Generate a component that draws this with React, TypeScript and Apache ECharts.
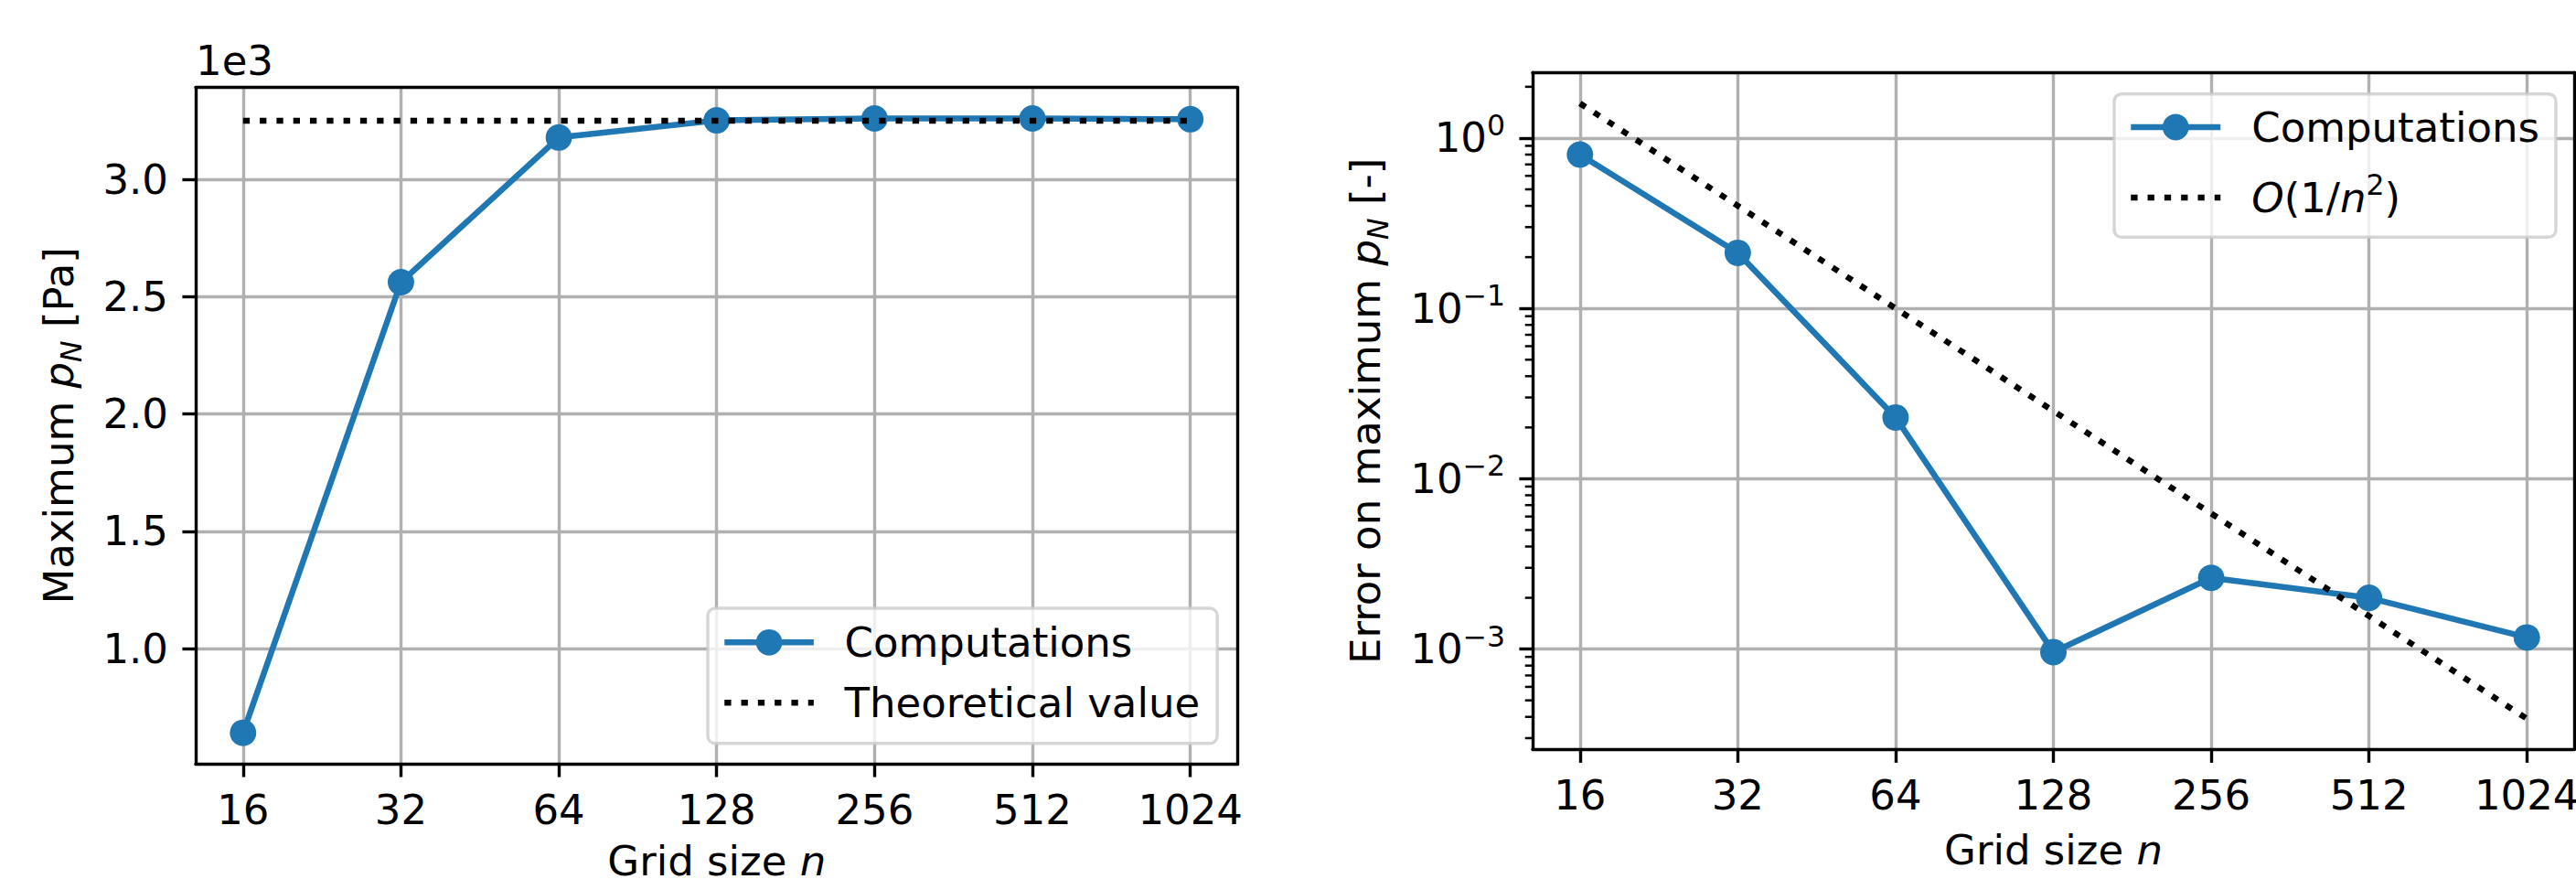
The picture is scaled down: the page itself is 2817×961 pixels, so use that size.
import React, { useEffect, useRef } from 'react';
import * as echarts from 'echarts';

// ---------------- data ----------------
const GRID_SIZES = [16, 32, 64, 128, 256, 512, 1024];
const MAX_PRESSURE = [641, 2562, 3179, 3252, 3260, 3260, 3257];
const THEORETICAL = [3250, 3250, 3250, 3250, 3250, 3250, 3250];
const ERRORS = [0.8, 0.212, 0.0229, 0.00096, 0.00262, 0.002, 0.00117];
const REFERENCE = [1.6, 0.4, 0.1, 0.025, 0.00625, 0.0015625, 0.000390625];
const LEFT_Y_TICKS = [1000, 1500, 2000, 2500, 3000];
const RIGHT_Y_TICKS = [0.001, 0.01, 0.1, 1];
const RIGHT_Y_MINOR = [
  3e-4, 4e-4, 5e-4, 6e-4, 7e-4, 8e-4, 9e-4,
  2e-3, 3e-3, 4e-3, 5e-3, 6e-3, 7e-3, 8e-3, 9e-3,
  2e-2, 3e-2, 4e-2, 5e-2, 6e-2, 7e-2, 8e-2, 9e-2,
  2e-1, 3e-1, 4e-1, 5e-1, 6e-1, 7e-1, 8e-1, 9e-1,
  2,
];
const REF_NAME = 'O(1/n²)';

// ---------------- style ----------------
const FONT = 'DejaVu Sans';
const FS = 45;
const SUB = 31.5;
const BLUE = '#1f77b4';
const GRIDC = '#b0b0b0';
const LW_AX = 3.4;
const LW = 6.5;
const DOT = [7.3, 11];

const X_MIN = 3.7; // log2 extent
const X_MAX = 10.3;
const LY_MIN = 509;
const LY_MAX = 3392;
const RY_MIN = -3.5889; // log10 extent
const RY_MAX = 0.3847;

const lg2 = (v: number) => Math.log2(v);
const lg10 = (v: number) => Math.log10(v);

const textBase = { fontFamily: FONT, fontSize: FS, color: '#000' };

const nameRich = {
  t: { ...textBase, lineHeight: 60 },
  i: { ...textBase, fontStyle: 'italic', lineHeight: 60 },
  s: { ...textBase, fontSize: SUB, fontStyle: 'italic', lineHeight: 38, verticalAlign: 'bottom' },
};

function bottomXAxis(gridIndex: number, nameGap: number) {
  return {
    type: 'value',
    gridIndex,
    min: X_MIN,
    max: X_MAX,
    position: 'bottom',
    axisLine: { show: true, onZero: false, lineStyle: { color: '#000', width: LW_AX } },
    axisTick: {
      show: true,
      length: 14.6,
      lineStyle: { color: '#000', width: LW_AX },
      customValues: GRID_SIZES.map(lg2),
    },
    axisLabel: {
      ...textBase,
      lineHeight: 46,
      margin: 27.5,
      customValues: GRID_SIZES.map(lg2),
      formatter: (v: number) => String(Math.round(Math.pow(2, v))),
    },
    splitLine: { show: true, lineStyle: { color: GRIDC, width: LW_AX } },
    name: '{t|Grid size }{i|n}',
    nameLocation: 'middle',
    nameGap,
    nameMoveOverlap: false,
    nameTextStyle: {
      ...textBase,
      lineHeight: 30,
      rich: {
        t: { ...textBase, lineHeight: 30 },
        i: { ...textBase, fontStyle: 'italic', lineHeight: 30 },
      },
    },
  };
}

function borderAxis(gridIndex: number, position: string, min: number, max: number) {
  return {
    type: 'value',
    gridIndex,
    min,
    max,
    position,
    axisLine: { show: true, onZero: false, lineStyle: { color: '#000', width: LW_AX } },
    axisTick: { show: false },
    axisLabel: { show: false },
    splitLine: { show: false },
  };
}

const legendCommon = {
  orient: 'vertical',
  itemHeight: 36,
  backgroundColor: 'rgba(255,255,255,0.8)',
  borderColor: 'rgba(204,204,204,0.8)',
  borderWidth: 3.4,
  borderRadius: 8,
  lineStyle: { width: LW },
  selectedMode: false,
};

const App: React.FC = () => {
  const ref = useRef<HTMLDivElement>(null);

  useEffect(() => {
    if (!ref.current) return;
    const chart = echarts.init(ref.current, undefined, { renderer: 'svg' });

    const option: any = {
      animation: false,
      backgroundColor: '#ffffff',
      grid: [
        { left: 214, right: 1463.5, top: 95.7, bottom: 126, outerBoundsMode: 'none', containLabel: false },
        { left: 1676, right: 2, top: 79.3, bottom: 141.7, outerBoundsMode: 'none', containLabel: false },
      ],
      xAxis: [
        bottomXAxis(0, 91),
        borderAxis(0, 'top', X_MIN, X_MAX),
        bottomXAxis(1, 95.5),
        borderAxis(1, 'top', X_MIN, X_MAX),
      ],
      yAxis: [
        {
          type: 'value',
          gridIndex: 0,
          min: LY_MIN,
          max: LY_MAX,
          position: 'left',
          axisLine: { show: true, onZero: false, lineStyle: { color: '#000', width: LW_AX } },
          axisTick: { show: true, length: 14.6, lineStyle: { color: '#000', width: LW_AX }, customValues: LEFT_Y_TICKS },
          axisLabel: {
            ...textBase,
            margin: 30,
            customValues: LEFT_Y_TICKS,
            formatter: (v: number) => (v / 1000).toFixed(1),
          },
          splitLine: { show: true, lineStyle: { color: GRIDC, width: LW_AX } },
          name: '{t|Maximum }{i|p}{s|N}{t| [Pa]}',
          nameLocation: 'middle',
          nameGap: 120,
          nameMoveOverlap: false,
          nameTextStyle: { ...textBase, rich: nameRich },
        },
        borderAxis(0, 'right', LY_MIN, LY_MAX),
        {
          type: 'value',
          gridIndex: 1,
          min: RY_MIN,
          max: RY_MAX,
          position: 'left',
          axisLine: { show: true, onZero: false, lineStyle: { color: '#000', width: LW_AX } },
          axisTick: { show: true, length: 14.6, lineStyle: { color: '#000', width: LW_AX }, customValues: RIGHT_Y_TICKS.map(lg10) },
          axisLabel: {
            ...textBase,
            margin: 30,
            customValues: RIGHT_Y_TICKS.map(lg10),
            formatter: (v: number) => {
              const e = Math.round(v);
              return `{b|10}{e|${e < 0 ? '\u2212' : ''}${Math.abs(e)}}`;
            },
            rich: {
              b: { ...textBase, lineHeight: 60 },
              e: { ...textBase, fontSize: SUB, lineHeight: 34.6, verticalAlign: 'top' },
            },
          },
          splitLine: { show: true, lineStyle: { color: GRIDC, width: LW_AX } },
          name: '{t|Error on maximum }{i|p}{s|N}{t| [-]}',
          nameLocation: 'middle',
          nameGap: 153,
          nameMoveOverlap: false,
          nameTextStyle: { ...textBase, rich: nameRich },
        },
        borderAxis(1, 'right', RY_MIN, RY_MAX),
      ],
      legend: [
        {
          ...legendCommon,
          id: 'legLeft',
          left: 774,
          top: 665,
          data: [
            { name: 'Computations' },
            {
              name: 'Theoretical value',
              itemStyle: { color: 'rgba(0,0,0,0)', borderWidth: 0 },
              lineStyle: { type: DOT, width: LW, color: '#000' },
            },
          ],
          itemWidth: 97.6,
          itemGap: 20,
          padding: [14.3, 19, 21.4, 15],
          textStyle: { ...textBase, lineHeight: 46, padding: [0, 0, 0, 28.7] },
        },
        {
          ...legendCommon,
          id: 'legRight',
          left: 2312,
          top: 102.7,
          data: [
            { name: 'Computations' },
            {
              name: REF_NAME,
              itemStyle: { color: 'rgba(0,0,0,0)', borderWidth: 0 },
              lineStyle: { type: DOT, width: LW, color: '#000' },
            },
          ],
          itemWidth: 98,
          itemGap: 24,
          padding: [13.3, 18, 13.3, 15],
          formatter: (name: string) => (name === REF_NAME ? '{i|O}{r|(1/}{i|n}{e|2}{r|)}' : name),
          textStyle: {
            ...textBase,
            lineHeight: 46,
            padding: [0, 0, 0, 29],
            rich: {
              i: { ...textBase, fontStyle: 'italic', lineHeight: 60 },
              r: { ...textBase, lineHeight: 60 },
              e: { ...textBase, fontSize: SUB, lineHeight: 34.6, verticalAlign: 'top' },
            },
          },
        },
      ],
      graphic: [
        {
          type: 'text',
          left: 214,
          top: 44,
          style: { text: '1e3', font: `${FS}px "${FONT}"`, fill: '#000' },
        },
      ],
      series: [
        {
          type: 'line',
          name: 'Computations',
          xAxisIndex: 0,
          yAxisIndex: 0,
          data: GRID_SIZES.map((n, i) => [lg2(n), MAX_PRESSURE[i]]),
          symbol: 'circle',
          symbolSize: 29,
          lineStyle: { color: BLUE, width: LW },
          itemStyle: { color: BLUE },
          z: 2,
        },
        {
          type: 'line',
          name: 'Theoretical value',
          xAxisIndex: 0,
          yAxisIndex: 0,
          data: GRID_SIZES.map((n, i) => [lg2(n), THEORETICAL[i]]),
          symbol: 'none',
          lineStyle: { color: '#000', width: LW, type: DOT },
          itemStyle: { color: '#000' },
          z: 3,
        },
        {
          type: 'line',
          name: 'Computations',
          xAxisIndex: 2,
          yAxisIndex: 2,
          data: GRID_SIZES.map((n, i) => [lg2(n), lg10(ERRORS[i])]),
          symbol: 'circle',
          symbolSize: 29,
          lineStyle: { color: BLUE, width: LW },
          itemStyle: { color: BLUE },
          z: 2,
        },
        {
          type: 'line',
          name: REF_NAME,
          xAxisIndex: 2,
          yAxisIndex: 2,
          data: GRID_SIZES.map((n, i) => [lg2(n), lg10(REFERENCE[i])]),
          symbol: 'none',
          lineStyle: { color: '#000', width: LW, type: DOT },
          itemStyle: { color: '#000' },
          z: 3,
        },
        {
          type: 'custom',
          name: 'minorTicks',
          xAxisIndex: 2,
          yAxisIndex: 2,
          clip: false,
          silent: true,
          data: RIGHT_Y_MINOR.map((v) => [X_MIN + 1, lg10(v)]),
          renderItem: (params: any, api: any) => {
            const pt = api.coord([api.value(0), api.value(1)]);
            const x0 = params.coordSys.x;
            return {
              type: 'line',
              shape: { x1: x0, y1: pt[1], x2: x0 - 8.3, y2: pt[1] },
              style: { stroke: '#000', lineWidth: 2.5 },
            };
          },
          z: 4,
        },
      ],
    };

    chart.setOption(option);
    return () => chart.dispose();
  }, []);

  return (
    <div
      ref={ref}
      style={{ position: 'absolute', left: 0, top: 0, width: 2817, height: 961, background: '#fff' }}
    />
  );
};

export default App;
